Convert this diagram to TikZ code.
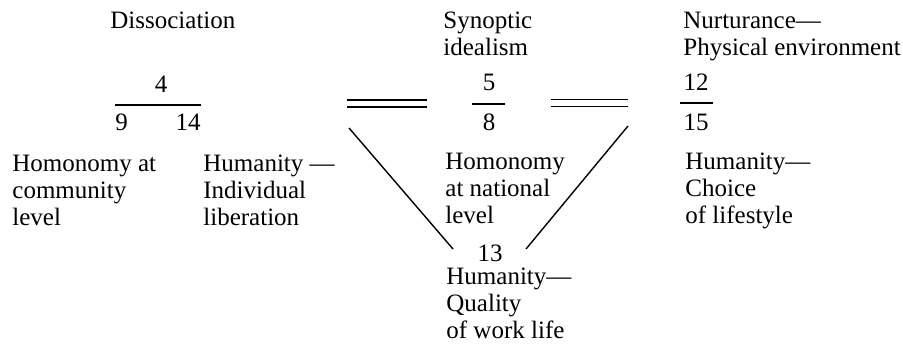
\documentclass[tikz,border=0pt]{standalone}
\usepackage{fontspec}
\setmainfont{Liberation Serif}
\usepackage{tikz}

\begin{document}
\begin{tikzpicture}[
  x=0.5pt, y=-0.5pt,
  every node/.style={inner sep=0pt, font=\fontsize{12.5}{13.5}\selectfont},
  label/.style={anchor=base west, align=left},
  num/.style={anchor=base},
  bar/.style={line width=0.7pt},
  equal/.style={double, double distance=2.8pt, line width=0.7pt},
  link/.style={line width=0.7pt}
]
  \useasboundingbox (0,0) rectangle (903,346);
  % headings (base = last line)
  \node[label] (dis) at (110,29) {Dissociation};
  \node[label] (syn) at (443,56) {Synoptic\\idealism};
  \node[label] (nur) at (683,56) {Nurturance—\\Physical environment};
  % numbers
  \node[num] (n4) at (161,93) {4};
  \node[anchor=base west] (n9) at (115,131) {9};
  \node[anchor=base east] (n14) at (201,131) {14};
  \node[num] (n5) at (489,91) {5};
  \node[num] (n8) at (489,131) {8};
  \node[num] (n12) at (696,91) {12};
  \node[num] (n15) at (696,131) {15};
  \node[num] (n13) at (490,262) {13};
  % fraction bars
  \coordinate (b4l) at (115,105);
  \coordinate (b4r) at (201,105);
  \coordinate (b5l) at (472,104);
  \coordinate (b5r) at (505,104);
  \coordinate (b12l) at (680,103);
  \coordinate (b12r) at (713,103);
  \draw[bar] (b4l) -- (b4r);
  \draw[bar] (b5l) -- (b5r);
  \draw[bar] (b12l) -- (b12r);
  % labels
  \node[label] (hc) at (12,226) {Homonomy at\\community\\level};
  \node[label] (hi) at (203,226) {Humanity —\\Individual\\liberation};
  \node[label] (hn) at (445,224) {Homonomy\\at national\\level};
  \node[label] (hl) at (685,224) {Humanity—\\Choice\\of lifestyle};
  \node[label] (hq) at (446,339) {Humanity—\\Quality\\of work life};
  % equivalences
  \coordinate (eql) at (347,103.5);
  \coordinate (eqr) at (427,103.5);
  \coordinate (eq2l) at (551,103);
  \coordinate (eq2r) at (628,103);
  \draw[equal] (eql) -- (eqr);
  \draw[equal] (eq2l) -- (eq2r);
  % links to 13
  \coordinate (ll) at (349,128);
  \coordinate (lr) at (628,126);
  \draw[link] (ll) -- (453,249);
  \draw[link] (lr) -- (526,249);
\end{tikzpicture}
\end{document}
